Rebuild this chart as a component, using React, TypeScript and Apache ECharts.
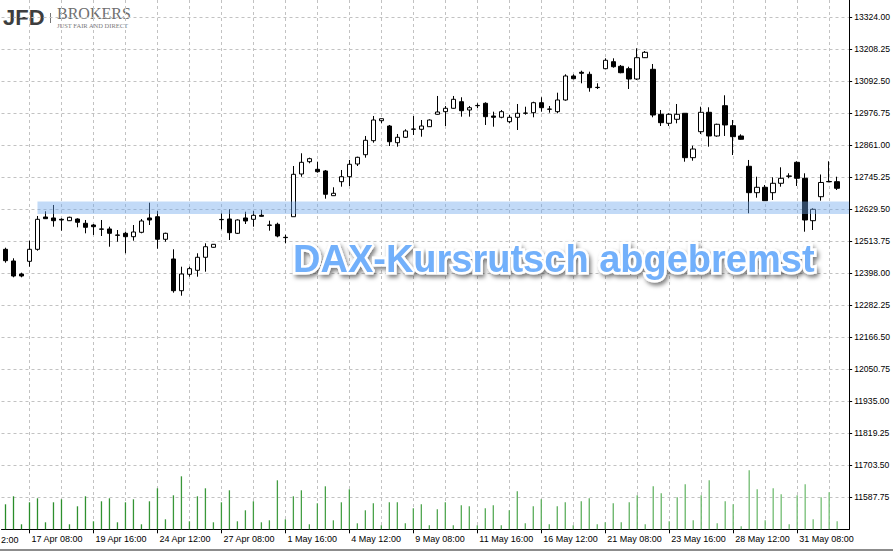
import React, { useEffect, useRef } from "react";
import * as echarts from "echarts";

// Trading days shown (three 4-hour bars per day: 08:00, 12:00, 16:00)
const days = [
  "16 Apr", "17 Apr", "18 Apr", "19 Apr", "20 Apr",
  "23 Apr", "24 Apr", "25 Apr", "26 Apr", "27 Apr",
  "30 Apr", "1 May", "2 May", "3 May", "4 May",
  "7 May", "8 May", "9 May", "10 May", "11 May",
  "14 May", "15 May", "16 May", "17 May", "18 May",
  "21 May", "22 May", "23 May", "24 May", "25 May",
  "28 May", "29 May", "30 May", "31 May", "1 Jun", "4 Jun",
];
const hours = ["08:00", "12:00", "16:00"];
const categories = days.flatMap((d) => hours.map((h) => `${d} ${h}`)).slice(0, 106);

// [open, close, low, high]
const ohlc = [
  [12484.8, 12443.6, 12436.4, 12490.6],
  [12442.5, 12388.2, 12383.5, 12452.3],
  [12395.5, 12388.2, 12383.5, 12400.2],
  [12441.4, 12484.8, 12421.9, 12515.9],
  [12484.8, 12593.3, 12479.8, 12605.3],
  [12601.7, 12595.5, 12594.4, 12622.3],
  [12598.1, 12588.3, 12566.6, 12645.1],
  [12593.3, 12590.8, 12552.1, 12597.0],
  [12588.3, 12600.6, 12587.2, 12602.7],
  [12594.4, 12582.5, 12564.4, 12597.0],
  [12578.9, 12564.4, 12542.7, 12590.8],
  [12572.7, 12566.6, 12536.6, 12576.3],
  [12557.2, 12558.5, 12532.9, 12590.8],
  [12558.3, 12542.7, 12494.2, 12566.6],
  [12536.6, 12535.5, 12512.3, 12554.6],
  [12542.7, 12530.4, 12470.4, 12548.5],
  [12530.4, 12547.4, 12515.9, 12572.7],
  [12546.3, 12587.2, 12542.7, 12594.4],
  [12598.1, 12590.8, 12572.7, 12653.4],
  [12602.7, 12521.0, 12487.0, 12623.4],
  [12521.0, 12542.7, 12512.3, 12544.9],
  [12449.8, 12335.1, 12327.9, 12484.8],
  [12335.1, 12395.5, 12317.0, 12421.9],
  [12394.4, 12414.7, 12385.7, 12421.9],
  [12408.9, 12455.9, 12385.7, 12470.4],
  [12455.9, 12494.2, 12403.8, 12506.5],
  [12492.1, 12502.9, 12490.6, 12504.0],
  [12591.9, 12592.9, 12557.2, 12615.1],
  [12594.4, 12544.9, 12518.5, 12629.5],
  [12542.7, 12590.8, 12540.2, 12593.3],
  [12598.1, 12587.2, 12576.3, 12620.8],
  [12593.3, 12607.8, 12566.6, 12623.4],
  [12607.8, 12604.2, 12602.7, 12627.0],
  [12572.7, 12571.5, 12552.1, 12588.3],
  [12575.3, 12532.9, 12528.2, 12581.1],
  [12528.2, 12527.0, 12506.5, 12537.6],
  [12602.7, 12756.1, 12602.7, 12786.1],
  [12757.2, 12799.5, 12747.4, 12832.1],
  [12801.7, 12812.6, 12795.9, 12816.2],
  [12774.2, 12765.5, 12761.9, 12801.7],
  [12768.1, 12683.8, 12667.9, 12771.7],
  [12678.7, 12687.4, 12677.6, 12709.1],
  [12729.4, 12747.4, 12711.3, 12771.7],
  [12747.4, 12792.3, 12713.8, 12807.9],
  [12793.4, 12817.6, 12786.1, 12819.8],
  [12827.0, 12879.1, 12816.2, 12894.7],
  [12877.7, 12952.5, 12870.4, 12967.0],
  [12950.0, 12957.2, 12940.6, 12958.7],
  [12930.8, 12874.0, 12858.5, 12934.5],
  [12870.4, 12890.0, 12856.0, 12901.9],
  [12890.0, 12912.8, 12887.4, 12918.9],
  [12918.9, 12920.0, 12898.3, 12967.0],
  [12918.9, 12930.8, 12892.1, 12952.5],
  [12928.3, 12952.5, 12927.2, 12955.1],
  [12973.2, 12981.5, 12971.7, 13039.4],
  [12982.6, 12994.9, 12930.8, 13003.2],
  [12994.9, 13027.4, 12993.4, 13039.4],
  [13018.7, 12986.2, 12964.5, 13034.7],
  [12988.7, 12997.0, 12964.5, 13003.2],
  [13004.3, 13005.2, 12995.9, 13012.9],
  [13012.9, 12964.5, 12934.5, 13016.6],
  [12967.0, 12962.3, 12928.3, 12982.6],
  [12962.3, 12982.6, 12958.7, 12988.7],
  [12946.4, 12962.3, 12940.6, 12970.6],
  [12962.3, 12976.8, 12916.4, 13010.4],
  [12976.8, 12977.8, 12971.7, 13000.6],
  [12978.9, 13015.1, 12962.3, 13018.7],
  [13015.1, 12997.0, 12982.6, 13034.7],
  [12991.2, 12992.3, 12978.9, 13003.2],
  [12982.6, 13024.9, 12976.8, 13051.3],
  [13024.9, 13111.7, 13022.3, 13117.8],
  [13111.7, 13101.9, 13099.8, 13117.8],
  [13125.1, 13121.5, 13085.3, 13130.9],
  [13117.8, 13069.4, 13054.9, 13127.3],
  [13070.8, 13069.8, 13064.7, 13085.3],
  [13138.1, 13168.5, 13135.9, 13175.7],
  [13163.4, 13145.3, 13141.7, 13175.7],
  [13146.8, 13123.6, 13121.5, 13151.5],
  [13138.1, 13100.8, 13064.7, 13145.3],
  [13100.8, 13177.9, 13097.2, 13211.9],
  [13177.9, 13197.4, 13176.8, 13202.1],
  [13135.9, 12970.6, 12962.3, 13155.1],
  [12973.2, 12942.8, 12930.8, 12988.7],
  [12940.6, 12973.2, 12930.8, 12976.8],
  [12955.1, 12973.2, 12940.6, 13010.4],
  [12976.8, 12816.2, 12801.7, 12976.8],
  [12816.2, 12847.6, 12805.3, 12859.6],
  [12910.2, 12980.4, 12901.9, 13000.6],
  [12980.4, 12894.7, 12856.0, 12998.5],
  [12894.7, 12937.0, 12892.1, 12939.2],
  [13004.3, 12934.5, 12894.7, 13041.9],
  [12931.9, 12892.1, 12825.9, 12952.5],
  [12894.7, 12882.7, 12881.3, 12900.8],
  [12785.1, 12689.6, 12615.1, 12807.9],
  [12689.6, 12709.1, 12671.5, 12747.4],
  [12709.1, 12660.6, 12660.6, 12717.4],
  [12689.6, 12723.6, 12663.2, 12745.3],
  [12723.6, 12741.7, 12711.3, 12781.4],
  [12750.0, 12749.0, 12741.7, 12759.7],
  [12799.5, 12741.7, 12713.8, 12803.2],
  [12741.7, 12590.8, 12548.5, 12759.7],
  [12588.3, 12629.5, 12554.6, 12633.1],
  [12675.1, 12726.5, 12660.6, 12755.4],
  [12730.1, 12729.0, 12727.5, 12803.2],
  [12729.4, 12705.5, 12699.3, 12747.4],
];

// tick volume per bar
const volumes = [
  1500, 1980, 300, 1620, 1860, 420, 1620, 1800, 300, 1380,
  1980, 480, 1680, 1860, 420, 1620, 1800, 300, 1680, 2460,
  600, 2040, 3180, 480, 1980, 2460, 420, 1620, 2340, 480,
  1140, 1680, 420, 540, 2940, 600, 1980, 2340, 300, 1560,
  2580, 540, 1620, 2400, 360, 1140, 1560, 240, 1620, 1620,
  360, 1260, 1500, 240, 1200, 1620, 240, 1440, 1380, 240,
  1260, 1440, 240, 1140, 2280, 360, 1380, 1800, 300, 1380,
  1620, 240, 1680, 1860, 300, 420, 1560, 420, 1620, 2040,
  300, 2580, 2160, 480, 1920, 2700, 540, 2040, 2940, 360,
  1680, 1500, 180, 3540, 2400, 540, 2460, 2100, 300, 2040,
  2700, 600, 1920, 2220, 480,
];

const priceMin = 11472.0;
const priceMax = 13386.58;
const priceStep = 115.75;
const volumeMax = 31758;
const bandLow = 12612.5;
const bandHigh = 12658.0;
const bandStart = "17 Apr 12:00";
const leftCutLabel = "2:00";
const title = "DAX-Kursrutsch abgebremst";

export default function App() {
  const ref = useRef<HTMLDivElement>(null);

  useEffect(() => {
    document.body.style.margin = "0";
    document.body.style.overflow = "hidden";
    if (!ref.current) return;
    const chart = echarts.init(ref.current, undefined, { renderer: "svg" });

    const labelEvery = (i: number) => (i - 3) % 8 === 0;
    const gridEvery = (i: number) => (i - 3) % 4 === 0;
    const axisFont = '"Liberation Sans", Arial, sans-serif';
    const n = volumes.length;
    const volColor = (p: any) => {
      const t = p.dataIndex / (n - 1);
      const r = Math.round(40 + (120 - 40) * t);
      const g = Math.round(140 + (192 - 140) * t);
      const b = Math.round(40 + (120 - 40) * t);
      return `rgb(${r},${g},${b})`;
    };

    chart.setOption({
      animation: false,
      backgroundColor: "#ffffff",
      grid: { left: 1.5, top: 0, width: 848, height: 529.3, containLabel: false },
      xAxis: {
        type: "category",
        data: categories,
        boundaryGap: true,
        axisLine: { show: true, lineStyle: { color: "#000", width: 1 } },
        axisTick: {
          show: true,
          alignWithLabel: true,
          interval: labelEvery,
          length: 4,
          lineStyle: { color: "#000" },
        },
        axisLabel: {
          interval: labelEvery,
          align: "left",
          margin: 5,
          padding: [0, 0, 0, 2],
          color: "#000",
          fontFamily: axisFont,
          fontSize: 9,
        },
        splitLine: {
          show: true,
          interval: gridEvery,
          alignWithLabel: true,
          lineStyle: { color: "#c2c2c2", type: [3, 3], width: 1 },
        },
      },
      yAxis: [
        {
          type: "value",
          position: "right",
          min: priceMin,
          max: priceMax,
          interval: priceStep,
          axisLine: { show: true, lineStyle: { color: "#000", width: 1 } },
          axisTick: { show: true, length: 3, lineStyle: { color: "#000" } },
          axisLabel: {
            margin: 5,
            color: "#000",
            fontFamily: axisFont,
            fontSize: 8.6,
            showMinLabel: false,
            showMaxLabel: false,
            formatter: (v: number) => v.toFixed(2),
          },
          splitLine: {
            show: true,
            showMinLine: false,
            showMaxLine: false,
            lineStyle: { color: "#c2c2c2", type: [3, 3], width: 1 },
          },
        },
        {
          type: "value",
          min: 0,
          max: volumeMax,
          show: false,
          splitLine: { show: false },
        },
      ],
      series: [
        {
          type: "bar",
          yAxisIndex: 1,
          data: volumes,
          barWidth: 1.3,
          silent: true,
          z: 1,
          itemStyle: { color: volColor },
        },
        {
          type: "candlestick",
          data: ohlc,
          barWidth: 5,
          z: 3,
          silent: true,
          itemStyle: {
            color: "#ffffff",
            color0: "#000000",
            borderColor: "#000000",
            borderColor0: "#000000",
            borderColorDoji: "#000000",
            borderWidth: 1,
          },
          markArea: {
            silent: true,
            z: 10,
            itemStyle: { color: "rgba(110,168,237,0.42)" },
            data: [[{ xAxis: bandStart, yAxis: bandHigh }, { yAxis: bandLow }]],
          },
        },
      ],
      graphic: [
        {
          type: "text",
          x: 3,
          y: 17.5,
          style: {
            text: "JFD",
            font: 'bold 22px "Liberation Sans", Arial, sans-serif',
            fill: "#3e3e3e",
            verticalAlign: "middle",
          },
        },
        {
          type: "line",
          shape: { x1: 50.5, y1: 13, x2: 50.5, y2: 23 },
          style: { stroke: "#777", lineWidth: 1 },
        },
        {
          type: "text",
          x: 57,
          y: 13.1,
          style: {
            text: "BROKERS",
            font: '16px "Liberation Serif", "Times New Roman", serif',
            fill: "#6e6e6e",
            verticalAlign: "middle",
          },
        },
        {
          type: "text",
          x: 57,
          y: 25.0,
          style: {
            text: "JUST FAIR AND DIRECT",
            font: '6.5px "Liberation Serif", "Times New Roman", serif',
            fill: "#7a7a7a",
            verticalAlign: "middle",
          },
        },
        {
          type: "text",
          x: 293,
          y: 258.5,
          z: 20,
          style: {
            text: title,
            font: 'bold 38px "Liberation Sans", Arial, sans-serif',
            fill: "#72b0fb",
            stroke: "#ffffff",
            lineWidth: 5,
            strokeFirst: true,
            verticalAlign: "middle",
            textShadowColor: "rgba(0,0,0,0.5)",
            textShadowBlur: 4,
            textShadowOffsetX: 2,
            textShadowOffsetY: 3,
          },
        },
        {
          type: "text",
          x: 1,
          y: 539.5,
          style: {
            text: leftCutLabel,
            font: '9px "Liberation Sans", Arial, sans-serif',
            fill: "#000",
            verticalAlign: "middle",
          },
        },
        {
          type: "line",
          shape: { x1: 0, y1: 550, x2: 893, y2: 550 },
          style: { stroke: "#8c8c8c", lineWidth: 2 },
        },
      ],
    });

    return () => chart.dispose();
  }, []);

  return <div ref={ref} style={{ width: 893, height: 553 }} />;
}
